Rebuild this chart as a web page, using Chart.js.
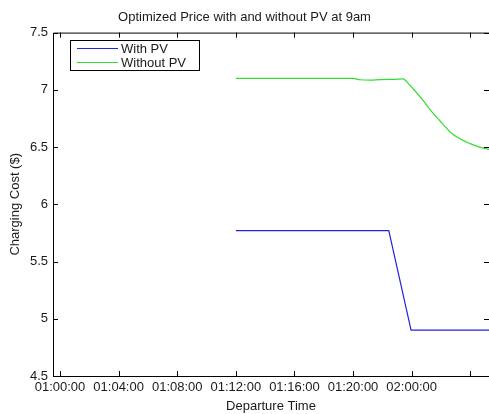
<!DOCTYPE html>
<html>
<head>
<meta charset="utf-8">
<script src="https://cdn.jsdelivr.net/npm/chart.js@4.4.0/dist/chart.umd.min.js"></script>
<style>
  html, body { margin: 0; padding: 0; background: #fff; overflow: hidden; }
  canvas { display: block; }
</style>
</head>
<body>
<canvas id="chart" width="489" height="414"></canvas>
<script>
// departure slots are indexed 0..7 along the x axis
const xTickLabels = ["01:00:00", "01:04:00", "01:08:00", "01:12:00", "01:16:00", "01:20:00", "02:00:00", ""];
const yTicks = [4.5, 5, 5.5, 6, 6.5, 7, 7.5];

const withPvSlot = [3.0, 5.61, 5.99, 7.32];
const withPvCost = [5.77, 5.77, 4.9, 4.9];

const withoutPvSlot = [3.0, 5.0, 5.12, 5.3, 5.46, 5.72, 5.85, 5.97, 6.19, 6.31, 6.48, 6.66, 6.83, 7.0, 7.16, 7.32];
const withoutPvCost = [7.10, 7.10, 7.088, 7.085, 7.09, 7.092, 7.095, 7.04, 6.91, 6.83, 6.73, 6.63, 6.57, 6.53, 6.50, 6.48];

const FONT = { family: "Liberation Sans, Arial, Helvetica, sans-serif", size: 13 };
const TEXT = "#1a1a1a";

function toPoints(xs, ys) {
  return xs.map((x, i) => ({ x: x, y: ys[i] }));
}

// box around the axes, inward ticks and the legend in the top left corner
const matlabAxes = {
  id: "matlabAxes",
  afterDatasetsDraw(chart) {
    const { ctx, chartArea: a, scales } = chart;
    const tick = 5;
    ctx.save();
    ctx.strokeStyle = "#000";
    ctx.lineWidth = 1;
    ctx.beginPath();
    ctx.moveTo(a.left + 0.5, a.bottom + 0.5);
    ctx.lineTo(a.left + 0.5, a.top + 0.5);
    ctx.lineTo(a.right, a.top + 0.5);
    ctx.moveTo(a.left + 0.5, a.bottom + 0.5);
    ctx.lineTo(a.right, a.bottom + 0.5);
    for (let i = 0; i < xTickLabels.length; i++) {
      const x = Math.round(scales.x.getPixelForValue(i)) + 0.5;
      ctx.moveTo(x, a.bottom);
      ctx.lineTo(x, a.bottom - tick);
      ctx.moveTo(x, a.top);
      ctx.lineTo(x, a.top + tick);
    }
    yTicks.forEach(v => {
      const y = Math.round(scales.y.getPixelForValue(v)) + 0.5;
      ctx.moveTo(a.left, y);
      ctx.lineTo(a.left + tick, y);
      ctx.moveTo(a.right, y);
      ctx.lineTo(a.right - tick, y);
    });
    ctx.stroke();

    // legend
    const bx = 70.5, by = 40.5, bw = 129, bh = 30;
    ctx.fillStyle = "#fff";
    ctx.fillRect(bx, by, bw, bh);
    ctx.strokeRect(bx, by, bw, bh);
    ctx.font = FONT.size + "px " + FONT.family;
    ctx.textBaseline = "middle";
    chart.data.datasets.forEach((ds, i) => {
      const y = 48 + i * 14;
      ctx.strokeStyle = ds.borderColor;
      ctx.lineWidth = 1.2;
      ctx.beginPath();
      ctx.moveTo(77, y + 0.5);
      ctx.lineTo(118, y + 0.5);
      ctx.stroke();
      ctx.fillStyle = TEXT;
      ctx.fillText(ds.label, 121, y + 1);
    });
    ctx.restore();
  }
};

new Chart(document.getElementById("chart"), {
  type: "line",
  data: {
    datasets: [
      {
        label: "With PV",
        data: toPoints(withPvSlot, withPvCost),
        borderColor: "#2222dd",
        borderWidth: 1.2,
        pointRadius: 0,
        tension: 0
      },
      {
        label: "Without PV",
        data: toPoints(withoutPvSlot, withoutPvCost),
        borderColor: "#33dd33",
        borderWidth: 1.2,
        pointRadius: 0,
        cubicInterpolationMode: "monotone"
      }
    ]
  },
  options: {
    responsive: false,
    animation: false,
    layout: { padding: { left: 0, right: 0, top: 0, bottom: 0 } },
    plugins: {
      legend: { display: false },
      tooltip: { enabled: false },
      title: {
        display: true,
        text: "Optimized Price with and without PV at 9am",
        color: TEXT,
        font: { family: FONT.family, size: 13, weight: "normal" },
        padding: { top: 10, bottom: 7 }
      }
    },
    scales: {
      x: {
        type: "linear",
        min: -0.12,
        max: 7.32,
        offset: false,
        grid: { display: false, drawTicks: false },
        border: { display: false },
        afterBuildTicks: (s) => { s.ticks = xTickLabels.map((_, i) => ({ value: i })); },
        afterFit: (s) => { s.height = 38; },
        ticks: {
          autoSkip: false,
          maxRotation: 0,
          padding: 4,
          color: TEXT,
          font: FONT,
          callback: (v) => xTickLabels[v]
        },
        title: {
          display: true,
          text: "Departure Time",
          color: TEXT,
          font: FONT,
          padding: { top: 2, bottom: 0 }
        }
      },
      y: {
        min: 4.5,
        max: 7.5,
        grid: { display: false, drawTicks: false },
        border: { display: false },
        afterBuildTicks: (s) => { s.ticks = yTicks.map(v => ({ value: v })); },
        afterFit: (s) => { s.width = 53; },
        ticks: {
          padding: 5,
          color: TEXT,
          font: FONT,
          callback: (v) => String(v)
        },
        title: {
          display: true,
          text: "Charging Cost ($)",
          color: TEXT,
          font: FONT,
          padding: { top: 8, bottom: 0 }
        }
      }
    }
  },
  plugins: [matlabAxes]
});
</script>
</body>
</html>
